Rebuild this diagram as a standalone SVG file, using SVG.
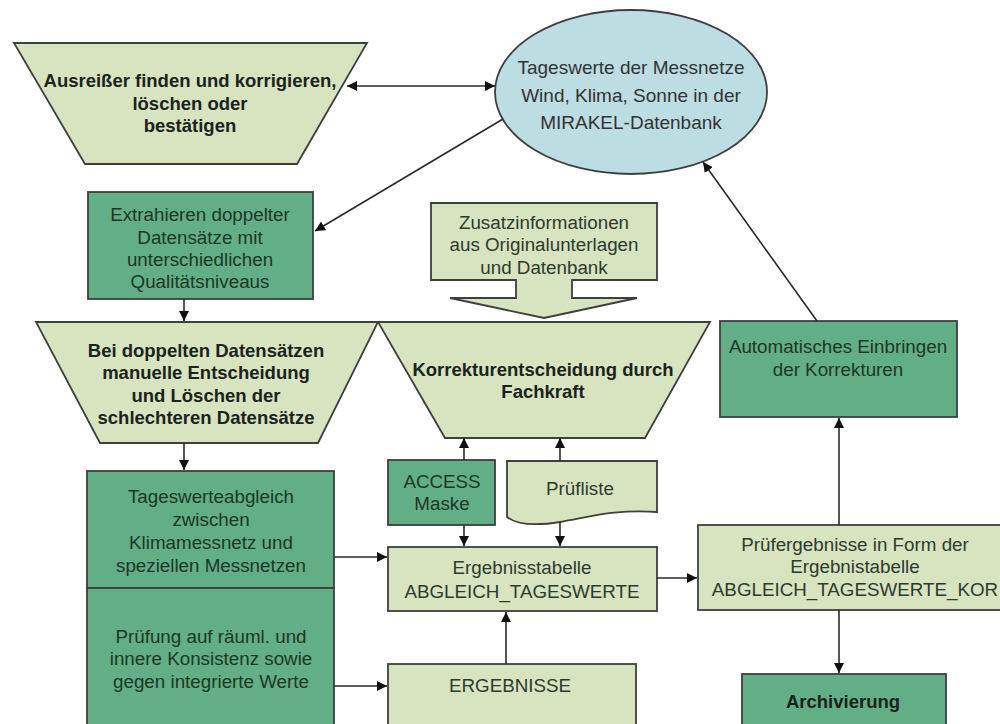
<svg xmlns="http://www.w3.org/2000/svg" width="1000" height="724" viewBox="0 0 1000 724">
  <style>
    .light { fill: #d7e4bf; stroke: #3f3f3f; stroke-width: 1.8; }
    .dark { fill: #62ae87; stroke: #3f3f3f; stroke-width: 1.8; }
    .db { fill: #bcdde2; stroke: #3f3f3f; stroke-width: 1.8; }
    .t { font-family: "Liberation Sans", Arial, sans-serif; font-size: 18.8px; fill: #2e3a2e; text-anchor: middle; }
    .td { font-family: "Liberation Sans", Arial, sans-serif; font-size: 18.8px; fill: #1d3825; text-anchor: middle; }
    .b { font-family: "Liberation Sans", Arial, sans-serif; font-size: 18.5px; font-weight: bold; fill: #1c221c; text-anchor: middle; }
    .c { stroke: #2a2a2a; stroke-width: 1.6; fill: none; }
  </style>
  <defs>
    <marker id="arr" viewBox="0 0 10 10" refX="10" refY="5" markerWidth="10" markerHeight="10" markerUnits="userSpaceOnUse" orient="auto-start-reverse">
      <path d="M0,0 L10,5 L0,10 Z" fill="#111"/>
    </marker>
  </defs>
  <rect width="1000" height="724" fill="#ffffff"/>

  <g id="ausreisser">
    <polygon class="light" points="14,43 367,43 297,164 85,164"/>
    <text class="b" x="190" y="87">Ausreißer finden und korrigieren,</text>
    <text class="b" x="190" y="110">löschen oder</text>
    <text class="b" x="190" y="132">bestätigen</text>
  </g>

  <g id="mirakel">
    <ellipse class="db" cx="631" cy="92" rx="136" ry="82"/>
    <text class="t" x="631" y="74" style="font-size:19px;fill:#333">Tageswerte der Messnetze</text>
    <text class="t" x="631" y="102" style="font-size:19px;fill:#333">Wind, Klima, Sonne in der</text>
    <text class="t" x="631" y="129" style="font-size:19px;fill:#333">MIRAKEL-Datenbank</text>
  </g>

  <g id="extrahieren">
    <rect class="dark" x="88" y="192" width="225" height="107"/>
    <text class="td" x="200" y="221">Extrahieren doppelter</text>
    <text class="td" x="200" y="244">Datensätze mit</text>
    <text class="td" x="200" y="266">unterschiedlichen</text>
    <text class="td" x="200" y="288">Qualitätsniveaus</text>
  </g>

  <g id="zusatz">
    <polygon class="light" points="431,203 657,203 657,280 572,280 572,298 637,298 544,318 450,298 516,298 516,280 431,280"/>
    <text class="t" x="544" y="229">Zusatzinformationen</text>
    <text class="t" x="544" y="251">aus Originalunterlagen</text>
    <text class="t" x="544" y="274">und Datenbank</text>
  </g>

  <g id="doppelte">
    <polygon class="light" points="36,322 378,322 318,443 100,443"/>
    <text class="b" x="206" y="357">Bei doppelten Datensätzen</text>
    <text class="b" x="206" y="379">manuelle Entscheidung</text>
    <text class="b" x="206" y="402">und Löschen der</text>
    <text class="b" x="206" y="424">schlechteren Datensätze</text>
  </g>

  <g id="korrektur">
    <polygon class="light" points="378,322 710,322 645,438 445,438"/>
    <text class="b" x="543" y="376">Korrekturentscheidung durch</text>
    <text class="b" x="543" y="398">Fachkraft</text>
  </g>

  <g id="einbringen">
    <rect class="dark" x="720" y="321" width="237" height="96"/>
    <text class="td" x="838" y="353">Automatisches Einbringen</text>
    <text class="td" x="838" y="376">der Korrekturen</text>
  </g>

  <g id="access">
    <rect class="dark" x="388" y="460" width="107" height="65"/>
    <text class="td" x="442" y="488">ACCESS</text>
    <text class="td" x="442" y="510">Maske</text>
  </g>

  <g id="pruefliste">
    <path class="light" d="M507,461 H657 V512 C615,509 590,517 560,522 C535,526 516,524 507,517 Z"/>
    <text class="t" x="580" y="495">Prüfliste</text>
  </g>

  <g id="abgleich">
    <rect class="dark" x="87" y="471" width="247" height="117"/>
    <text class="td" x="211" y="503">Tageswerteabgleich</text>
    <text class="td" x="211" y="526">zwischen</text>
    <text class="td" x="211" y="549">Klimamessnetz und</text>
    <text class="td" x="211" y="572">speziellen Messnetzen</text>
  </g>

  <g id="pruefung">
    <rect class="dark" x="87" y="588" width="247" height="150"/>
    <text class="td" x="211" y="643">Prüfung auf räuml. und</text>
    <text class="td" x="211" y="665">innere Konsistenz sowie</text>
    <text class="td" x="211" y="688">gegen integrierte Werte</text>
  </g>

  <g id="ergebnisstabelle">
    <rect class="light" x="388" y="547" width="269" height="64"/>
    <text class="t" x="522" y="574">Ergebnisstabelle</text>
    <text class="t" x="522" y="598">ABGLEICH_TAGESWERTE</text>
  </g>

  <g id="ergebnisse">
    <rect class="light" x="388" y="664" width="248" height="74"/>
    <text class="t" x="510" y="692">ERGEBNISSE</text>
  </g>

  <g id="pruefergebnisse">
    <rect class="light" x="698" y="525" width="312" height="85"/>
    <text class="t" x="855" y="551">Prüfergebnisse in Form der</text>
    <text class="t" x="855" y="573">Ergebnistabelle</text>
    <text class="t" x="855" y="596">ABGLEICH_TAGESWERTE_KOR</text>
  </g>

  <g id="archivierung">
    <rect class="dark" x="742" y="674" width="204" height="64"/>
    <text class="b" x="843" y="708">Archivierung</text>
  </g>

  <g id="connectors">
    <line class="c" x1="347" y1="86" x2="495" y2="86" marker-start="url(#arr)" marker-end="url(#arr)"/>
    <line class="c" x1="503" y1="119" x2="315" y2="231" marker-end="url(#arr)"/>
    <line class="c" x1="184" y1="299" x2="184" y2="321" marker-end="url(#arr)"/>
    <line class="c" x1="184" y1="443" x2="184" y2="470" marker-end="url(#arr)"/>
    <line class="c" x1="334" y1="557" x2="387" y2="557" marker-end="url(#arr)"/>
    <line class="c" x1="334" y1="686" x2="387" y2="686" marker-end="url(#arr)"/>
    <line class="c" x1="464" y1="460" x2="464" y2="438" marker-end="url(#arr)"/>
    <line class="c" x1="560" y1="461" x2="560" y2="438" marker-end="url(#arr)"/>
    <line class="c" x1="464" y1="525" x2="464" y2="546" marker-end="url(#arr)"/>
    <line class="c" x1="560" y1="522" x2="560" y2="546" marker-end="url(#arr)"/>
    <line class="c" x1="506" y1="664" x2="506" y2="612" marker-end="url(#arr)"/>
    <line class="c" x1="657" y1="578" x2="697" y2="578" marker-end="url(#arr)"/>
    <line class="c" x1="839" y1="525" x2="839" y2="418" marker-end="url(#arr)"/>
    <line class="c" x1="839" y1="610" x2="839" y2="673" marker-end="url(#arr)"/>
    <line class="c" x1="817" y1="321" x2="703" y2="162" marker-end="url(#arr)"/>
  </g>
</svg>
